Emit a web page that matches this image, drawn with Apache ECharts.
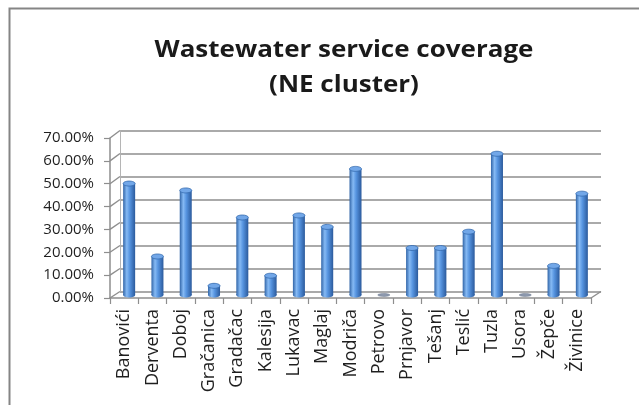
<!DOCTYPE html>
<html>
<head>
<meta charset="utf-8">
<script src="https://cdn.jsdelivr.net/npm/echarts@6/dist/echarts.min.js"></script>
<style>
  html, body { margin: 0; padding: 0; background: #ffffff; }
  #chart { width: 639px; height: 405px; }
</style>
</head>
<body>
<div id="chart"></div>
<script>
// Municipalities of the NE cluster
const categories = ['Banovići', 'Derventa', 'Doboj', 'Gračanica', 'Gradačac', 'Kalesija',
  'Lukavac', 'Maglaj', 'Modriča', 'Petrovo', 'Prnjavor', 'Tešanj', 'Teslić', 'Tuzla',
  'Usora', 'Žepče', 'Živinice'];
// Share of population covered by wastewater service
const coverage = [0.486, 0.168, 0.456, 0.040, 0.338, 0.084, 0.347, 0.297, 0.550, 0.000,
  0.205, 0.205, 0.276, 0.616, 0.000, 0.127, 0.442];
// Value axis ticks
const yTicks = [0, 0.1, 0.2, 0.3, 0.4, 0.5, 0.6, 0.7];
const titleLines = ['Wastewater service coverage', '(NE cluster)'];

const AXIS_GREY = '#8e8e8e';
const FONT = "'Open Sans', 'DejaVu Sans', sans-serif";

// front plane (axes), middle plane (columns), back wall (gridlines)
const front = { left: 110, top: 138, width: 481, height: 160 };
const mid   = { left: 115, top: 134.5, width: 481, height: 160.5 };
const back  = { left: 120, top: 130.5, width: 481, height: 161 };

const pct = v => (v * 100).toFixed(2) + '%';

const chart = echarts.init(document.getElementById('chart'), null, { renderer: 'canvas' });

function cylinder(params, api) {
  const idx = api.value(0);
  const top = api.coord([idx, api.value(1)]);
  const base = api.coord([idx, 0]);
  const w = 12, ry = 2.5;
  const x0 = top[0] - w / 2;
  const body = new echarts.graphic.LinearGradient(0, 0, 1, 0, [
    { offset: 0, color: '#3165a8' },
    { offset: 0.3, color: '#86baf4' },
    { offset: 0.55, color: '#5694e0' },
    { offset: 1, color: '#2b5a9c' }
  ]);
  const children = [];
  if (base[1] - top[1] > 0.5) {
    children.push({
      type: 'ellipse',
      shape: { cx: top[0], cy: base[1], rx: w / 2, ry: ry },
      style: { fill: body }
    });
    children.push({
      type: 'rect',
      shape: { x: x0, y: top[1], width: w, height: base[1] - top[1] },
      style: { fill: body }
    });
    children.push({
      type: 'ellipse',
      shape: { cx: top[0], cy: top[1], rx: w / 2, ry: ry },
      style: { fill: '#72a7e8', stroke: '#3469ad', lineWidth: 0.8 }
    });
  } else {
    children.push({
      type: 'ellipse',
      shape: { cx: top[0], cy: base[1], rx: w / 2, ry: 1.4 },
      style: { fill: '#8f9bb0', stroke: '#6f7b8f', lineWidth: 0.6 }
    });
  }
  return { type: 'group', children: children };
}

const yMin = yTicks[0], yMax = yTicks[yTicks.length - 1], yStep = yTicks[1] - yTicks[0];

chart.setOption({
  animation: false,
  backgroundColor: '#ffffff',
  grid: [
    Object.assign({}, front),
    Object.assign({}, mid),
    Object.assign({}, back)
  ],
  xAxis: [
    {
      gridIndex: 0, type: 'category', data: categories, boundaryGap: true,
      axisLine: { show: true, lineStyle: { color: AXIS_GREY, width: 1.5 } },
      axisTick: { show: true, interval: 0, length: 6, lineStyle: { color: AXIS_GREY, width: 1.2 } },
      axisLabel: { rotate: 90, interval: 0, margin: 11, fontSize: 18, fontFamily: FONT, color: '#1f1f1f' },
      splitLine: { show: false }
    },
    { gridIndex: 1, type: 'category', data: categories, boundaryGap: true, show: false },
    { gridIndex: 2, type: 'category', data: categories, boundaryGap: true, show: false }
  ],
  yAxis: [
    {
      gridIndex: 0, type: 'value', min: yMin, max: yMax, interval: yStep,
      axisLine: { show: true, lineStyle: { color: AXIS_GREY, width: 1.5 } },
      axisTick: { show: true, length: 6, lineStyle: { color: AXIS_GREY, width: 1.2 } },
      axisLabel: { formatter: pct, fontSize: 15, fontFamily: FONT, color: '#1f1f1f', margin: 16, padding: [5, 0, 0, 0] },
      splitLine: { show: false }
    },
    { gridIndex: 1, type: 'value', min: yMin, max: yMax, interval: yStep, show: false },
    {
      gridIndex: 2, type: 'value', min: yMin, max: yMax, interval: yStep,
      axisLine: { show: true, lineStyle: { color: '#b5b5b5', width: 1 } },
      axisTick: { show: false },
      axisLabel: { show: false },
      splitLine: { show: true, lineStyle: { color: AXIS_GREY, width: 1.6 } }
    }
  ],
  series: [
    {
      type: 'custom',
      xAxisIndex: 1, yAxisIndex: 1,
      renderItem: cylinder,
      encode: { x: 0, y: 1 },
      data: coverage.map((v, i) => [i, v]),
      z: 5
    }
  ]
});

const elements = [];
// two-line heading, widened slightly to the chart's proportions
elements.push({
  type: 'text', silent: true, z: 10,
  x: 344, y: 33, scaleX: 1.13,
  style: {
    text: titleLines.join('\n'),
    textAlign: 'center', textVerticalAlign: 'top',
    font: "bold 23px " + FONT, lineHeight: 35, fill: '#1a1a1a'
  }
});
// side-wall and floor edges joining the front axes to the back wall
yTicks.forEach(v => {
  const yf = chart.convertToPixel({ yAxisIndex: 0 }, v);
  const yb = chart.convertToPixel({ yAxisIndex: 2 }, v);
  elements.push({
    type: 'line', silent: true, z: 1,
    shape: { x1: front.left, y1: yf, x2: back.left, y2: yb },
    style: { stroke: AXIS_GREY, lineWidth: 1.4 }
  });
});
const yf0 = chart.convertToPixel({ yAxisIndex: 0 }, yMin);
const yb0 = chart.convertToPixel({ yAxisIndex: 2 }, yMin);
elements.push({
  type: 'line', silent: true, z: 1,
  shape: { x1: front.left + front.width, y1: yf0, x2: back.left + back.width, y2: yb0 },
  style: { stroke: AXIS_GREY, lineWidth: 1.4 }
});
// chart frame
elements.push({
  type: 'polyline', silent: true, z: 1,
  shape: { points: [[9.5, 405], [9.5, 8.5], [639, 8.5]] },
  style: { stroke: '#858585', lineWidth: 2, fill: null }
});

chart.setOption({ graphic: elements });
</script>
</body>
</html>
